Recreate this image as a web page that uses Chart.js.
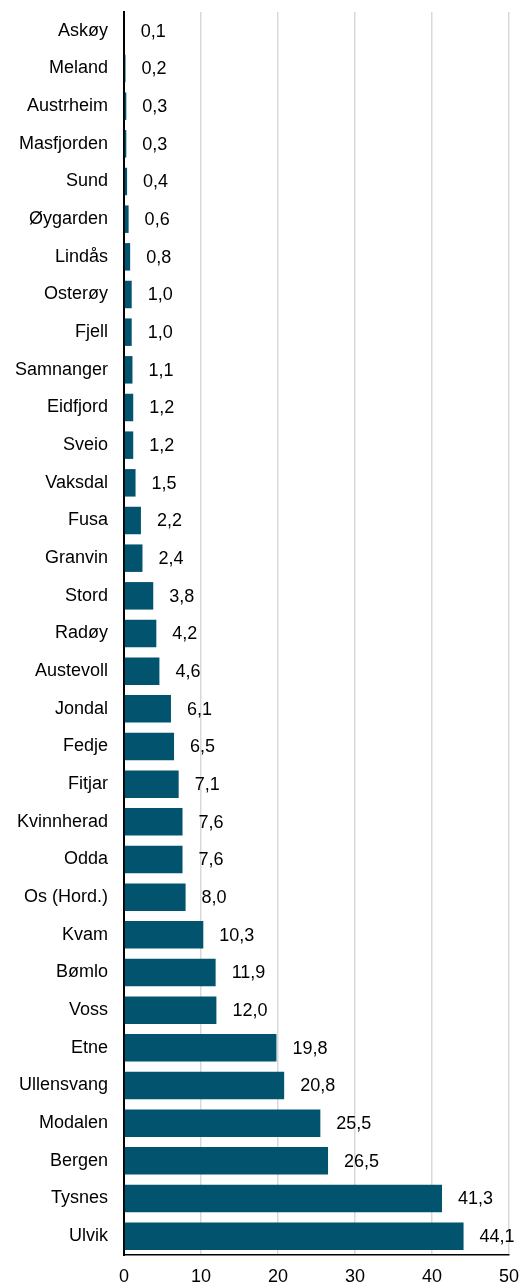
<!DOCTYPE html>
<html>
<head>
<meta charset="utf-8">
<script src="https://cdn.jsdelivr.net/npm/chart.js@4/dist/chart.umd.min.js"></script>
<style>
  html, body { margin: 0; padding: 0; background: #fff; }
  #wrap { width: 521px; height: 1285px; }
</style>
</head>
<body>
<div id="wrap"><canvas id="chart"></canvas></div>
<script>
const kommuner = ['Askøy', 'Meland', 'Austrheim', 'Masfjorden', 'Sund', 'Øygarden', 'Lindås', 'Osterøy', 'Fjell',
    'Samnanger', 'Eidfjord', 'Sveio', 'Vaksdal', 'Fusa', 'Granvin', 'Stord', 'Radøy', 'Austevoll', 'Jondal',
    'Fedje', 'Fitjar', 'Kvinnherad', 'Odda', 'Os (Hord.)', 'Kvam', 'Bømlo', 'Voss', 'Etne', 'Ullensvang',
    'Modalen', 'Bergen', 'Tysnes', 'Ulvik'];
const verdier = [0.1, 0.2, 0.3, 0.3, 0.4, 0.6, 0.8, 1.0, 1.0, 1.1, 1.2, 1.2, 1.5, 2.2, 2.4, 3.8, 4.2, 4.6, 6.1,
    6.5, 7.1, 7.6, 7.6, 8.0, 10.3, 11.9, 12.0, 19.8, 20.8, 25.5, 26.5, 41.3, 44.1];
const xTicks = [0, 10, 20, 30, 40, 50];

const fontFamily = '"Liberation Sans", Arial, sans-serif';

// verdietiketter til høyre for søylene
const valueLabels = {
    id: 'valueLabels',
    afterDatasetsDraw(chart) {
        const ctx = chart.ctx;
        const meta = chart.getDatasetMeta(0);
        ctx.save();
        ctx.font = '18px ' + fontFamily;
        ctx.fillStyle = '#000';
        ctx.textBaseline = 'middle';
        ctx.textAlign = 'left';
        meta.data.forEach((bar, i) => {
            const txt = verdier[i].toFixed(1).replace('.', ',');
            ctx.fillText(txt, bar.x + 16, bar.y + 1);
        });
        ctx.restore();
    }
};

new Chart(document.getElementById('chart'), {
    type: 'bar',
    data: {
        labels: kommuner,
        datasets: [{
            data: verdier,
            backgroundColor: '#02546e',
            barPercentage: 0.73,
            categoryPercentage: 1
        }]
    },
    options: {
        indexAxis: 'y',
        responsive: true,
        maintainAspectRatio: false,
        animation: false,
        devicePixelRatio: 1,
        layout: { padding: { top: 12, right: 12, left: 0, bottom: 0 } },
        plugins: { legend: { display: false }, tooltip: { enabled: false } },
        scales: {
            x: {
                min: 0,
                max: 50,
                afterBuildTicks: s => { s.ticks = xTicks.map(v => ({ value: v })); },
                afterFit: s => { s.height = 30; s.paddingLeft = 0; s.paddingRight = 0; },
                grid: { color: '#d9d9d9', lineWidth: 1.5, drawTicks: false },
                border: { color: '#000', width: 1.5 },
                ticks: { color: '#000', font: { size: 18, family: fontFamily }, padding: 11 }
            },
            y: {
                afterFit: s => { s.width = 124; s.paddingTop = 0; s.paddingBottom = 0; },
                grid: { display: false, drawTicks: false },
                border: { color: '#000', width: 2 },
                ticks: { color: '#000', font: { size: 18, family: fontFamily }, padding: 16, autoSkip: false }
            }
        }
    },
    plugins: [valueLabels]
});
</script>
</body>
</html>
